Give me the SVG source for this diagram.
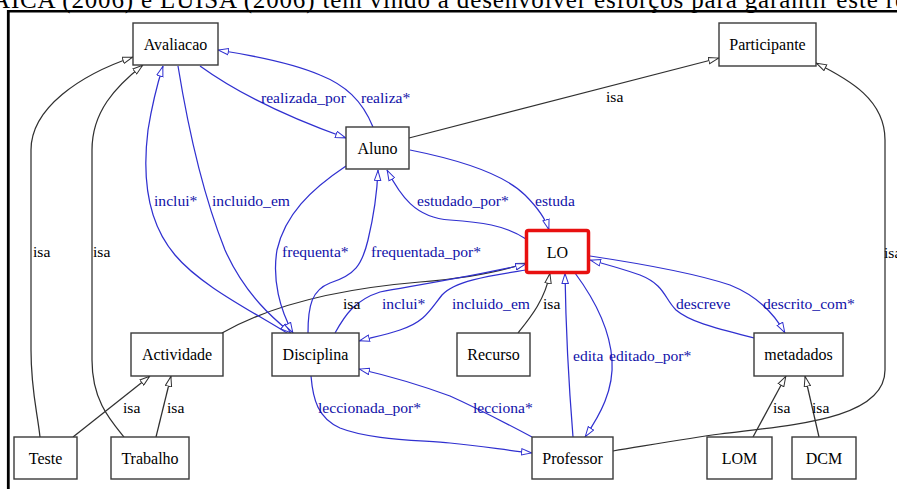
<svg xmlns="http://www.w3.org/2000/svg" width="897" height="489" viewBox="0 0 897 489" font-family="Liberation Serif, Times New Roman, serif">
<defs>
<style>
.n rect{fill:#fff;stroke:#3a3a3a;stroke-width:1.4}
.n text{font-size:16px;fill:#000;text-anchor:middle}
.e path{fill:none;stroke-width:1.25}
.k{stroke:#303030}
.b{stroke:#3030d0}
.lk{font-size:15.6px;fill:#000}
.lb{font-size:15.6px;fill:#1010a8}
</style>
<marker id="ak" viewBox="0 0 11 8" refX="11" refY="4" markerWidth="11" markerHeight="8" markerUnits="userSpaceOnUse" orient="auto"><path d="M0.5,0.8 L10.5,4 L0.5,7.2 z" fill="#fff" stroke="#303030" stroke-width="1"/></marker>
<marker id="ab" viewBox="0 0 11 8" refX="11" refY="4" markerWidth="11" markerHeight="8" markerUnits="userSpaceOnUse" orient="auto"><path d="M0.5,0.8 L10.5,4 L0.5,7.2 z" fill="#fff" stroke="#3030d0" stroke-width="1"/></marker>
</defs>
<rect x="0" y="0" width="897" height="489" fill="#fff"/>
<text x="-8" y="7.5" font-family="Liberation Serif, Times New Roman, serif" font-size="25" textLength="914" lengthAdjust="spacing" fill="#000">AICA (2006) e LUISA (2006) têm vindo a desenvolver esforços para garantir este re</text>
<line x1="7" y1="11.2" x2="897" y2="11.2" stroke="#000" stroke-width="2.6"/>
<line x1="8.3" y1="10" x2="8.3" y2="489" stroke="#000" stroke-width="2.8"/>

<g id="edges" class="e" font-family="Liberation Serif, Times New Roman, serif">
<path class="k" d="M40,437 C37,410 31,390 31,350 L31,150 C31,108 80,75 133,57" marker-end="url(#ak)"/>
<path class="k" d="M124,437 C110,420 92,400 92,360 L92,150 C92,112 115,87 143,65" marker-end="url(#ak)"/>
<path class="k" d="M73,437 L150,376" marker-end="url(#ak)"/>
<path class="k" d="M156,437 L171,376" marker-end="url(#ak)"/>
<path class="k" d="M222,333 C280,300 360,287 420,282 C470,278 500,272 526,263" marker-end="url(#ak)"/>
<path class="k" d="M518,333 C530,318 545,300 550,273" marker-end="url(#ak)"/>
<path class="k" d="M409,138 L719,58" marker-end="url(#ak)"/>
<path class="k" d="M613,451 C650,445 690,438 720,434 C790,425 885,420 885,370 L885,140 C885,100 850,80 816,63" marker-end="url(#ak)"/>
<path class="k" d="M753,437 L786,376" marker-end="url(#ak)"/>
<path class="k" d="M819,437 L805,376" marker-end="url(#ak)"/>

<path class="b" d="M200,66 C240,95 290,118 346,138" marker-end="url(#ab)"/>
<path class="b" d="M373,127 C362,100 345,85 320,75 C290,62 250,55 218,50" marker-end="url(#ab)"/>
<path class="b" d="M178,66 C190,140 205,200 225,250 C245,295 275,320 291,333" marker-end="url(#ab)"/>
<path class="b" d="M287,333 C250,310 200,285 175,255 C145,220 143,170 148,130 C152,105 157,85 163,66" marker-end="url(#ab)"/>
<path class="b" d="M346,166 C310,190 285,215 277,250 C272,280 280,310 293,333" marker-end="url(#ab)"/>
<path class="b" d="M308,333 C308,305 312,290 330,283 C355,275 362,265 368,240 C374,215 377,195 378,170" marker-end="url(#ab)"/>
<path class="b" d="M526,239 C505,225 480,222 450,220 C415,218 400,195 387,170" marker-end="url(#ab)"/>
<path class="b" d="M410,150 C460,160 505,175 525,195 C540,210 546,220 549,230" marker-end="url(#ab)"/>
<path class="b" d="M335,333 C345,315 355,300 380,292 C430,283 490,273 526,264" marker-end="url(#ab)"/>
<path class="b" d="M526,270 C495,275 455,280 442,295 C430,310 425,322 400,330 C385,335 370,338 359,341" marker-end="url(#ab)"/>
<path class="b" d="M532,437 C500,420 470,405 450,396 C420,385 385,375 359,369" marker-end="url(#ab)"/>
<path class="b" d="M311,376 C313,400 318,418 340,428 C370,440 420,440 450,443 C480,446 505,450 532,453" marker-end="url(#ab)"/>
<path class="b" d="M573,437 C570,400 566,340 565,273" marker-end="url(#ab)"/>
<path class="b" d="M575,273 C595,300 610,330 612,360 C614,390 600,415 585,437" marker-end="url(#ab)"/>
<path class="b" d="M754,338 C715,328 690,322 676,310 C664,298 665,285 640,275 C620,268 605,264 590,260" marker-end="url(#ab)"/>
<path class="b" d="M590,256 C650,265 700,275 730,285 C760,297 775,315 785,333" marker-end="url(#ab)"/>

<text class="lk" x="33" y="257">isa</text>
<text class="lk" x="93" y="257">isa</text>
<text class="lk" x="123" y="413">isa</text>
<text class="lk" x="167" y="413">isa</text>
<text class="lk" x="343" y="309">isa</text>
<text class="lk" x="543" y="309">isa</text>
<text class="lk" x="606" y="102">isa</text>
<text class="lk" x="884" y="258">isa</text>
<text class="lk" x="773" y="413">isa</text>
<text class="lk" x="812" y="413">isa</text>

<text class="lb" x="261" y="103">realizada_por</text>
<text class="lb" x="361" y="103">realiza*</text>
<text class="lb" x="212" y="206">incluido_em</text>
<text class="lb" x="154" y="206">inclui*</text>
<text class="lb" x="282" y="257">frequenta*</text>
<text class="lb" x="371" y="257">frequentada_por*</text>
<text class="lb" x="417" y="206">estudado_por*</text>
<text class="lb" x="535" y="206">estuda</text>
<text class="lb" x="382" y="309">inclui*</text>
<text class="lb" x="452" y="309">incluido_em</text>
<text class="lb" x="473" y="413">lecciona*</text>
<text class="lb" x="318" y="413">leccionada_por*</text>
<text class="lb" x="573" y="361">edita</text>
<text class="lb" x="609" y="361">editado_por*</text>
<text class="lb" x="676" y="309">descreve</text>
<text class="lb" x="763" y="309">descrito_com*</text>
</g>

<g id="Avaliacao" class="n"><rect x="133" y="23" width="85" height="42"/><text x="175.5" y="49.5">Avaliacao</text></g>
<g id="Participante" class="n"><rect x="719" y="23" width="97" height="43"/><text x="767.5" y="49.5">Participante</text></g>
<g id="Aluno" class="n"><rect x="346" y="127" width="63" height="42"/><text x="377.5" y="153.5">Aluno</text></g>
<g id="LO" class="n"><rect x="526.5" y="230.5" width="62" height="42" rx="2" style="stroke:#e81010;stroke-width:3.5"/><text x="557.5" y="257.5">LO</text></g>
<g id="Actividade" class="n"><rect x="131" y="333" width="92" height="43"/><text x="177" y="360">Actividade</text></g>
<g id="Disciplina" class="n"><rect x="272" y="333" width="87" height="43"/><text x="315.5" y="360">Disciplina</text></g>
<g id="Recurso" class="n"><rect x="457" y="333" width="73" height="43"/><text x="493.5" y="360">Recurso</text></g>
<g id="metadados" class="n"><rect x="754" y="333" width="89" height="43"/><text x="798.5" y="360">metadados</text></g>
<g id="Teste" class="n"><rect x="14" y="437" width="63" height="42"/><text x="45.5" y="463.5">Teste</text></g>
<g id="Trabalho" class="n"><rect x="111" y="437" width="78" height="42"/><text x="150" y="463.5">Trabalho</text></g>
<g id="Professor" class="n"><rect x="532" y="437" width="81" height="42"/><text x="572.5" y="463.5">Professor</text></g>
<g id="LOM" class="n"><rect x="707" y="437" width="65" height="42"/><text x="739.5" y="463.5">LOM</text></g>
<g id="DCM" class="n"><rect x="792" y="437" width="64" height="42"/><text x="824" y="463.5">DCM</text></g>
</svg>
